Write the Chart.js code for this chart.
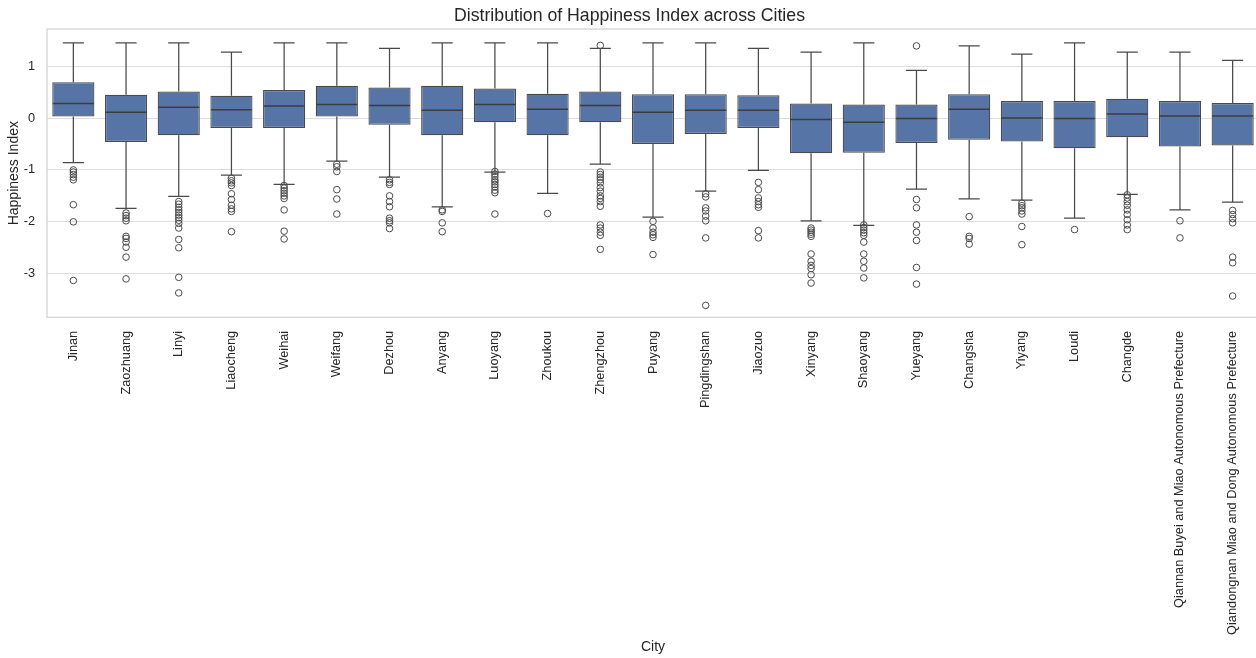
<!DOCTYPE html>
<html>
<head>
<meta charset="utf-8">
<title>Distribution of Happiness Index across Cities</title>
<script src="https://cdn.jsdelivr.net/npm/chart.js@4.4.1/dist/chart.umd.min.js"></script>
<style>
  html, body { margin: 0; padding: 0; background: #ffffff; overflow: hidden; }
  #chart { display: block; }
</style>
</head>
<body>
<canvas id="chart" width="1306" height="658"></canvas>
<script>
// City order along the x axis
const cities = [
  'Jinan', 'Zaozhuang', 'Linyi', 'Liaocheng', 'Weihai', 'Weifang', 'Dezhou',
  'Anyang', 'Luoyang', 'Zhoukou', 'Zhengzhou', 'Puyang', 'Pingdingshan',
  'Jiaozuo', 'Xinyang', 'Shaoyang', 'Yueyang', 'Changsha', 'Yiyang', 'Loudi',
  'Changde', 'Qiannan Buyei and Miao Autonomous Prefecture',
  'Qiandongnan Miao and Dong Autonomous Prefecture'
];

// Five-number summaries of the happiness index per city
const whiskerHigh = [1.45, 1.45, 1.45, 1.27, 1.45, 1.45, 1.34, 1.45, 1.45, 1.45, 1.34, 1.45, 1.45, 1.34, 1.27, 1.45, 0.92, 1.39, 1.23, 1.45, 1.27, 1.27, 1.11];
const q3 = [0.69, 0.45, 0.51, 0.43, 0.54, 0.62, 0.59, 0.62, 0.57, 0.47, 0.51, 0.46, 0.46, 0.44, 0.28, 0.26, 0.26, 0.46, 0.33, 0.33, 0.37, 0.33, 0.29];
const median = [0.28, 0.11, 0.21, 0.16, 0.23, 0.26, 0.24, 0.15, 0.26, 0.17, 0.24, 0.11, 0.15, 0.15, -0.03, -0.08, -0.01, 0.17, 0.00, -0.01, 0.08, 0.04, 0.04];
const q1 = [0.03, -0.46, -0.33, -0.19, -0.19, 0.03, -0.13, -0.33, -0.08, -0.33, -0.08, -0.50, -0.31, -0.19, -0.68, -0.67, -0.48, -0.42, -0.45, -0.58, -0.37, -0.55, -0.53];
const whiskerLow = [-0.86, -1.74, -1.51, -1.10, -1.28, -0.83, -1.14, -1.71, -1.04, -1.45, -0.89, -1.91, -1.41, -1.01, -1.98, -2.07, -1.37, -1.56, -1.58, -1.93, -1.47, -1.77, -1.62];

// Points beyond the whiskers, one list per city
const outliers = [
  [-1.00, -1.04, -1.09, -1.14, -1.19, -1.67, -2.00, -3.13],
  [-1.83, -1.88, -1.93, -1.98, -2.28, -2.32, -2.39, -2.49, -2.68, -3.10],
  [-1.61, -1.66, -1.72, -1.77, -1.82, -1.87, -1.92, -1.97, -2.03, -2.12, -2.34, -2.50, -3.07, -3.37],
  [-1.16, -1.21, -1.25, -1.30, -1.46, -1.57, -1.68, -1.75, -1.80, -2.19],
  [-1.30, -1.35, -1.40, -1.45, -1.50, -1.55, -1.77, -2.18, -2.33],
  [-0.89, -0.94, -1.03, -1.38, -1.56, -1.85],
  [-1.19, -1.24, -1.28, -1.50, -1.61, -1.71, -1.93, -1.98, -2.02, -2.13],
  [-1.77, -1.80, -2.02, -2.19],
  [-1.03, -1.08, -1.13, -1.19, -1.23, -1.28, -1.33, -1.39, -1.44, -1.85],
  [-1.84],
  [1.40, -1.04, -1.09, -1.14, -1.19, -1.25, -1.34, -1.41, -1.50, -1.55, -1.61, -1.70, -2.06, -2.12, -2.20, -2.26, -2.53],
  [-1.99, -2.12, -2.20, -2.25, -2.30, -2.63],
  [-1.46, -1.52, -1.73, -1.79, -1.89, -1.98, -2.31, -3.61],
  [-1.24, -1.38, -1.54, -1.61, -1.67, -1.72, -2.17, -2.31],
  [-2.12, -2.16, -2.20, -2.24, -2.28, -2.62, -2.76, -2.84, -2.90, -3.02, -3.18],
  [-2.06, -2.11, -2.16, -2.21, -2.26, -2.39, -2.62, -2.76, -2.89, -3.08],
  [1.39, -1.57, -1.73, -2.06, -2.20, -2.36, -2.88, -3.20],
  [-1.90, -2.28, -2.32, -2.43],
  [-1.64, -1.69, -1.73, -1.79, -1.85, -2.09, -2.44],
  [-2.15],
  [-1.48, -1.54, -1.61, -1.68, -1.77, -1.86, -1.96, -2.06, -2.15],
  [-1.98, -2.31],
  [-1.78, -1.86, -1.94, -2.02, -2.68, -2.79, -3.43]
];

// Value axis ticks
const yTicks = [-3, -2, -1, 0, 1];

const FONT = "'Liberation Sans', Arial, Helvetica, sans-serif";
const TEXT = '#262626';
const BOX_FILL = '#5674a6';
const LINE = '#4a4a4a';

const outlierPoints = [];
cities.forEach((c, i) => outliers[i].forEach(v => outlierPoints.push({ x: c, y: v })));

// Frame, whiskers with caps, and median lines drawn through the chart scales
const boxParts = {
  id: 'boxParts',
  beforeDatasetsDraw(chart) {
    const { ctx, chartArea: a, scales: { x, y } } = chart;
    const bars = chart.getDatasetMeta(0).data;
    ctx.save();
    ctx.strokeStyle = '#d2d2d2';
    ctx.lineWidth = 1.25;
    ctx.strokeRect(a.left, a.top, a.right - a.left, a.bottom - a.top);

    ctx.strokeStyle = LINE;
    ctx.lineWidth = 1.25;
    cities.forEach((c, i) => {
      const cx = x.getPixelForValue(i);
      const half = bars[i].width / 4;
      const yHi = y.getPixelForValue(whiskerHigh[i]);
      const yLo = y.getPixelForValue(whiskerLow[i]);
      const y3 = y.getPixelForValue(q3[i]);
      const y1 = y.getPixelForValue(q1[i]);
      ctx.beginPath();
      ctx.moveTo(cx, y3); ctx.lineTo(cx, yHi);
      ctx.moveTo(cx - half, yHi); ctx.lineTo(cx + half, yHi);
      ctx.moveTo(cx, y1); ctx.lineTo(cx, yLo);
      ctx.moveTo(cx - half, yLo); ctx.lineTo(cx + half, yLo);
      ctx.stroke();
    });
    ctx.restore();
  },
  afterDatasetsDraw(chart) {
    const { ctx, scales: { y } } = chart;
    const bars = chart.getDatasetMeta(0).data;
    ctx.save();
    ctx.strokeStyle = '#3c3c3c';
    ctx.lineWidth = 1.5;
    cities.forEach((c, i) => {
      const b = bars[i];
      const ym = y.getPixelForValue(median[i]);
      ctx.beginPath();
      ctx.moveTo(b.x - b.width / 2 + 0.6, ym);
      ctx.lineTo(b.x + b.width / 2 - 0.6, ym);
      ctx.stroke();
    });
    ctx.restore();
  }
};

new Chart(document.getElementById('chart'), {
  type: 'bar',
  data: {
    labels: cities,
    datasets: [
      {
        type: 'bar',
        label: 'Interquartile range',
        data: cities.map((c, i) => [q1[i], q3[i]]),
        backgroundColor: BOX_FILL,
        borderColor: LINE,
        borderWidth: 1.25,
        borderSkipped: false,
        barPercentage: 0.8,
        categoryPercentage: 1.0,
        order: 2
      },
      {
        type: 'line',
        label: 'Outliers',
        data: outlierPoints,
        showLine: false,
        pointStyle: 'circle',
        pointRadius: 3.3,
        pointBorderWidth: 1,
        pointBorderColor: LINE,
        pointBackgroundColor: 'rgba(0,0,0,0)',
        order: 1
      }
    ]
  },
  options: {
    responsive: false,
    animation: false,
    layout: { padding: { left: 0, right: 47, top: 0, bottom: 0 } },
    plugins: {
      legend: { display: false },
      tooltip: { enabled: false },
      title: {
        display: true,
        text: 'Distribution of Happiness Index across Cities',
        color: TEXT,
        font: { family: FONT, size: 17.7, weight: 'normal' },
        padding: { top: 5.1, bottom: 2.7 }
      }
    },
    scales: {
      x: {
        type: 'category',
        offset: true,
        grid: { display: false, drawTicks: false },
        border: { display: false },
        ticks: {
          color: TEXT,
          font: { family: FONT, size: 12.75 },
          minRotation: 90,
          maxRotation: 90,
          autoSkip: false,
          padding: 13.5
        },
        title: {
          display: true,
          text: 'City',
          color: TEXT,
          font: { family: FONT, size: 14 },
          padding: { top: 0, bottom: 2.6 }
        },
        afterFit(scale) { scale.height = 340.7; }
      },
      y: {
        min: -3.84,
        max: 1.715,
        afterBuildTicks(scale) { scale.ticks = yTicks.map(v => ({ value: v })); },
        grid: { color: '#dddddd', lineWidth: 1, drawTicks: false },
        border: { display: false },
        ticks: {
          color: TEXT,
          font: { family: FONT, size: 12.75 },
          padding: 12,
          callback: v => String(v)
        },
        title: {
          display: true,
          text: 'Happiness Index',
          color: TEXT,
          font: { family: FONT, size: 14 },
          padding: { top: 5.6, bottom: 0 }
        },
        afterFit(scale) { scale.width = 47; }
      }
    }
  },
  plugins: [boxParts]
});
</script>
</body>
</html>
